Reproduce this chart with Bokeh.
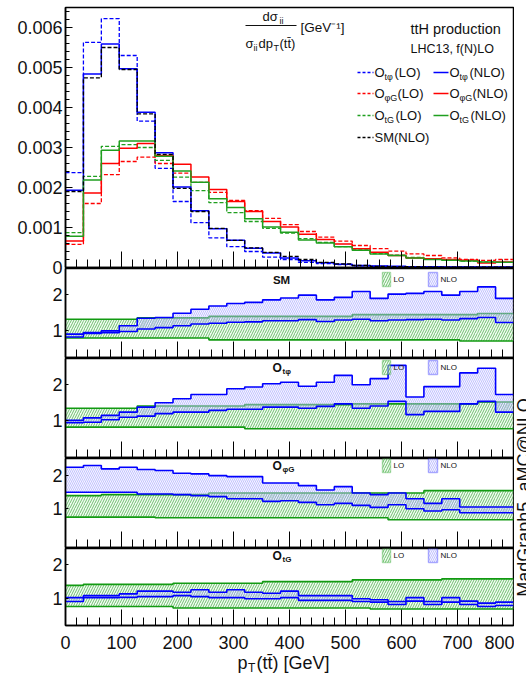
import math
from bokeh.plotting import figure
from bokeh.models import Range1d, FixedTicker, SingleIntervalTicker, Label, BoxAnnotation, LinearAxis
from bokeh.layouts import column, row
from bokeh.embed import file_html
from bokeh.resources import INLINE

# ---------------- data ----------------
bin_edges = [0, 32, 64, 96, 128, 160, 192, 224, 256, 288, 320, 352, 384, 416, 448,
             480, 512, 544, 576, 608, 640, 672, 704, 736, 768, 800]

# normalised distributions (1/sigma dsigma/dpT) [GeV^-1]
sm_nlo = [0.00190, 0.00474, 0.00550, 0.00495, 0.00384, 0.00283, 0.00198, 0.00140, 0.00098, 0.00068,
          0.00049, 0.00038, 0.00028, 0.00020, 0.00013, 0.00009, 0.00005, 0.00003, 0.00002, 0.00002,
          0.00001, 0.00001, 0.00001, 0.00001, 0.00001]
tphi_nlo = [0.00193, 0.00484, 0.00559, 0.00497, 0.00388, 0.00287, 0.00201, 0.00142, 0.00097, 0.00068,
            0.00048, 0.00036, 0.00024, 0.00017, 0.00012, 0.00008, 0.00005, 0.00004, 0.00003, 0.00002,
            0.00002, 0.00001, 0.00001, 0.00001, 0.00001]
tphi_lo = [0.00237, 0.00563, 0.00622, 0.00530, 0.00366, 0.00248, 0.00165, 0.00112, 0.00074, 0.00052,
           0.00040, 0.00026, 0.00020, 0.00013, 0.00010, 0.00007, 0.00004, 0.00003, 0.00002, 0.00002,
           0.00001, 0.00001, 0.00001, 0.00000, 0.00000]
phig_nlo = [0.00066, 0.00186, 0.00260, 0.00298, 0.00310, 0.00280, 0.00258, 0.00226, 0.00195, 0.00165,
            0.00140, 0.00115, 0.00101, 0.00083, 0.00070, 0.00059, 0.00047, 0.00038, 0.00030, 0.00024,
            0.00022, 0.00020, 0.00018, 0.00011, 0.00014]
phig_lo = [0.00058, 0.00160, 0.00232, 0.00265, 0.00276, 0.00260, 0.00236, 0.00213, 0.00188, 0.00168,
           0.00142, 0.00123, 0.00107, 0.00090, 0.00076, 0.00066, 0.00055, 0.00047, 0.00041, 0.00034,
           0.00030, 0.00024, 0.00020, 0.00018, 0.00020]
tg_nlo = [0.00078, 0.00219, 0.00293, 0.00316, 0.00316, 0.00278, 0.00241, 0.00213, 0.00172, 0.00150,
          0.00122, 0.00101, 0.00088, 0.00069, 0.00061, 0.00052, 0.00043, 0.00034, 0.00030, 0.00024,
          0.00020, 0.00018, 0.00016, 0.00014, 0.00013]
tg_lo = [0.00087, 0.00228, 0.00303, 0.00307, 0.00300, 0.00268, 0.00226, 0.00192, 0.00162, 0.00137,
         0.00115, 0.00098, 0.00086, 0.00072, 0.00063, 0.00052, 0.00044, 0.00035, 0.00031, 0.00025,
         0.00021, 0.00018, 0.00016, 0.00014, 0.00013]

# ratio bands (scale uncertainty / central), LO and NLO
sm_lo_up = [1.32, 1.32, 1.32, 1.32, 1.36, 1.36, 1.36, 1.36, 1.40, 1.40, 1.40, 1.40, 1.40, 1.40, 1.40,
            1.40, 1.45, 1.45, 1.45, 1.45, 1.45, 1.45, 1.45, 1.48, 1.48]
sm_lo_dn = [0.80, 0.80, 0.80, 0.80, 0.80, 0.80, 0.80, 0.80, 0.75, 0.75, 0.75, 0.75, 0.75, 0.75, 0.75,
            0.75, 0.75, 0.75, 0.75, 0.75, 0.75, 0.75, 0.72, 0.72, 0.72]
sm_nlo_up = [0.91, 0.95, 1.00, 1.14, 1.35, 1.37, 1.49, 1.60, 1.69, 1.76, 1.79, 1.86, 1.91, 1.99, 1.86,
             1.93, 2.09, 1.90, 2.02, 2.04, 2.09, 1.99, 2.09, 2.22, 1.90]
sm_nlo_dn = [0.83, 0.93, 0.95, 0.98, 1.05, 1.09, 1.14, 1.19, 1.21, 1.24, 1.25, 1.28, 1.28, 1.31, 1.26,
             1.30, 1.32, 1.28, 1.30, 1.31, 1.32, 1.30, 1.34, 1.37, 1.23]

tphi_lo_up = [1.34, 1.34, 1.34, 1.34, 1.40, 1.40, 1.40, 1.40, 1.40, 1.40, 1.44, 1.44, 1.44, 1.44, 1.44,
              1.44, 1.46, 1.46, 1.46, 1.46, 1.46, 1.46, 1.46, 1.51, 1.51]
tphi_lo_dn = [0.815, 0.815, 0.815, 0.815, 0.815, 0.815, 0.815, 0.815, 0.815, 0.815, 0.77, 0.77, 0.77,
              0.77, 0.77, 0.77, 0.77, 0.77, 0.77, 0.77, 0.77, 0.77, 0.77, 0.77, 0.77]
tphi_nlo_up = [1.00, 1.07, 1.14, 1.23, 1.37, 1.49, 1.60, 1.72, 1.72, 1.88, 1.93, 2.02, 2.06, 1.95, 2.06,
               2.25, 1.99, 2.16, 2.53, 1.65, 1.94, 1.94, 2.32, 2.45, 1.72]
tphi_nlo_dn = [0.935, 0.95, 1.02, 1.09, 1.12, 1.19, 1.23, 1.23, 1.28, 1.31, 1.31, 1.37, 1.37, 1.34, 1.39,
               1.46, 1.34, 1.40, 1.53, 1.16, 1.25, 1.25, 1.46, 1.53, 1.23]

phig_lo_up = [1.39, 1.39, 1.42, 1.42, 1.42, 1.42, 1.42, 1.42, 1.47, 1.47, 1.47, 1.47, 1.47, 1.47, 1.47,
              1.47, 1.47, 1.47, 1.47, 1.47, 1.54, 1.54, 1.54, 1.54, 1.54]
phig_lo_dn = [0.75, 0.75, 0.75, 0.75, 0.75, 0.73, 0.73, 0.73, 0.73, 0.73, 0.73, 0.73, 0.73, 0.73, 0.73,
              0.73, 0.73, 0.73, 0.67, 0.67, 0.67, 0.67, 0.67, 0.67, 0.67]
phig_nlo_up = [2.24, 2.29, 2.19, 2.24, 2.17, 2.14, 2.06, 2.04, 1.99, 1.96, 1.96, 1.77, 1.77, 1.69, 1.56,
               1.66, 1.47, 1.42, 1.47, 1.30, 1.16, 1.30, 1.05, 1.05, 1.05]
phig_nlo_dn = [1.49, 1.49, 1.49, 1.49, 1.44, 1.44, 1.42, 1.39, 1.36, 1.30, 1.30, 1.22, 1.24, 1.19, 1.12,
               1.16, 1.10, 1.04, 1.12, 1.00, 0.93, 0.97, 0.88, 0.88, 0.88]

tg_lo_up = [1.39, 1.42, 1.42, 1.42, 1.42, 1.42, 1.45, 1.45, 1.45, 1.45, 1.45, 1.50, 1.50, 1.50, 1.50,
            1.50, 1.55, 1.55, 1.55, 1.55, 1.55, 1.58, 1.58, 1.58, 1.58]
tg_lo_dn = [0.77, 0.77, 0.77, 0.77, 0.77, 0.77, 0.73, 0.73, 0.73, 0.73, 0.73, 0.73, 0.73, 0.73, 0.73,
            0.73, 0.73, 0.70, 0.70, 0.70, 0.70, 0.70, 0.70, 0.70, 0.70]
tg_nlo_up = [1.03, 1.09, 1.09, 1.14, 1.22, 1.22, 1.19, 1.26, 1.19, 1.26, 1.19, 1.16, 1.22, 1.09, 1.09,
             1.09, 1.00, 0.97, 0.92, 1.03, 0.92, 1.03, 0.93, 0.87, 0.90]
tg_nlo_dn = [0.92, 1.03, 1.03, 1.04, 1.06, 1.06, 1.09, 1.06, 1.03, 1.03, 1.00, 1.00, 1.03, 0.95, 0.95,
             0.95, 0.92, 0.90, 0.83, 0.93, 0.83, 0.90, 0.83, 0.77, 0.80]

main_yticks = [0, 0.001, 0.002, 0.003, 0.004, 0.005, 0.006]
main_ytick_labels = ["0", "0.001", "0.002", "0.003", "0.004", "0.005", "0.006"]
ratio_yticks = [1, 2]
x_major_ticks = [0, 100, 200, 300, 400, 500, 600, 700, 800]
x_minor_ticks = list(range(0, 801, 20))

# ---------------- styling / geometry ----------------
FONT = "Liberation Sans"
TXT = "#111111"
BLUE = "#0000ff"
RED = "#ff0000"
GREEN = "#1f9f1f"
BLACK = "#000000"
BAND_GREEN = "#129a12"
COL_W = 514
FL, FR = 65, 513

PANELS = {
    "main": dict(top=7, bottom=267, y0=0.0, y1=0.0065),
    "r1": dict(top=268, bottom=357, y0=0.26, y1=2.73),
    "r2": dict(top=358, bottom=457, y0=-0.03, y1=2.72),
    "r3": dict(top=458, bottom=547, y0=-0.158, y1=2.50),
    "r4": dict(top=548, bottom=625, y0=0.216, y1=2.468),
}


def gx(px):
    return (px - FL) * 800.0 / (FR - FL)


def gy(key, py):
    g = PANELS[key]
    return g["y1"] - (py - g["top"]) * (g["y1"] - g["y0"]) / (g["bottom"] - g["top"])


def txt_px(p, x, y, text, size, bold=False, align="left", color=TXT):
    p.add_layout(Label(x=x, y=y, text=text, text_font=FONT,
                       text_font_size=f"{size}px", text_font_style="bold" if bold else "normal",
                       text_align=align, text_baseline="middle", text_color=color))


def txt(p, key, px, py, text, size, bold=False, align="left", color=TXT):
    txt_px(p, gx(px), gy(key, py), text, size, bold, align, color)


def make_fig(key, height, btop, bbottom, show_xlabels=False, margin=None):
    g = PANELS[key]
    kw = {}
    if margin is not None:
        kw["margin"] = margin
    p = figure(width=COL_W, height=height, x_range=Range1d(0, 800),
               y_range=Range1d(g["y0"], g["y1"]), output_backend="svg", toolbar_location=None,
               min_border_left=FL, min_border_right=COL_W - FR,
               min_border_top=btop, min_border_bottom=bbottom, **kw)
    p.xgrid.visible = False
    p.ygrid.visible = False
    p.outline_line_color = "black"
    p.outline_line_width = 1.5
    p.background_fill_color = "white"
    p.border_fill_alpha = 0.0
    xa = p.xaxis[0]
    xa.major_tick_out = 0
    xa.minor_tick_out = 0
    xa.major_tick_line_color = "black"
    xa.minor_tick_line_color = "black"
    xa.axis_line_color = "black"
    xa.axis_line_width = 1.5
    if show_xlabels:
        xa.ticker = SingleIntervalTicker(interval=100, num_minor_ticks=5)
        xa.major_tick_in = 16
        xa.minor_tick_in = 8
        xa.major_label_text_font = FONT
        xa.major_label_text_font_size = "18px"
        xa.major_label_text_color = TXT
        xa.major_label_standoff = 10
    else:
        # tick marks only (no labels): short ticks every 20 GeV, long ones every 100 GeV
        xa.ticker = FixedTicker(ticks=[], minor_ticks=x_minor_ticks)
        xa.minor_tick_in = 8
        xa.major_label_standoff = 0
        xb = LinearAxis(ticker=FixedTicker(ticks=[], minor_ticks=x_major_ticks),
                        minor_tick_in=16, minor_tick_out=0, major_tick_in=0, major_tick_out=0,
                        major_label_standoff=0, axis_line_color=None,
                        minor_tick_line_color="black")
        p.add_layout(xb, "below")
    ya = p.yaxis[0]
    ya.major_tick_out = 0
    ya.minor_tick_out = 0
    ya.major_label_text_font = FONT
    ya.major_label_text_font_size = "18px"
    ya.major_label_text_color = TXT
    ya.major_label_standoff = 3
    ya.axis_line_color = "black"
    ya.axis_line_width = 1.5
    ya.major_tick_line_color = "black"
    return p


def hist(p, vals, color, dash="solid", width=1.5):
    p.step(x=bin_edges, y=vals + vals[-1:], mode="after", line_color=color,
           line_width=width, line_dash=dash)


LO_STYLE = dict(fill_color="#e9f6e9", fill_alpha=0.5, hatch_pattern="right_diagonal_line",
                hatch_color="#2aa52a", hatch_scale=5, hatch_weight=0.9, hatch_alpha=0.75)
NLO_STYLE = dict(fill_color="#e6e6ff", fill_alpha=0.35, hatch_pattern="left_diagonal_line",
                 hatch_color="#7a7aff", hatch_scale=4, hatch_weight=0.6, hatch_alpha=0.7)


def band(p, lo, hi, style, line_color):
    p.quad(left=bin_edges[:-1], right=bin_edges[1:], bottom=lo, top=hi, line_color=None, **style)
    p.step(x=bin_edges, y=hi + hi[-1:], mode="after", line_color=line_color, line_width=1.6)
    p.step(x=bin_edges, y=lo + lo[-1:], mode="after", line_color=line_color, line_width=1.6)


# ---------------- main panel ----------------
main = make_fig("main", 276, 7, 9)
ya = main.yaxis[0]
ya.ticker = FixedTicker(ticks=main_yticks, minor_ticks=[k * 0.0002 for k in range(33)])
ya.major_label_overrides = {t: s for t, s in zip(main_yticks, main_ytick_labels)}
ya.major_tick_in = 7
ya.minor_tick_in = 4
ya.minor_tick_line_color = "black"

hist(main, tphi_lo, BLUE, "4 2", 1.3)
hist(main, phig_lo, RED, "4 2", 1.3)
hist(main, tg_lo, GREEN, "4 2", 1.3)
hist(main, tphi_nlo, BLUE)
hist(main, phig_nlo, RED)
hist(main, tg_nlo, GREEN)
hist(main, sm_nlo, BLACK, "4 2", 1.3)

# y-axis title (fraction)
txt(main, "main", 262, 16, "dσ", 13)
txt(main, "main", 279, 20, "ii", 9)
main.segment(x0=[gx(245)], y0=[gy("main", 25)], x1=[gx(296)], y1=[gy("main", 25)],
             line_color=TXT, line_width=1)
txt(main, "main", 245, 43, "σ", 13)
txt(main, "main", 253, 47, "ii", 9)
txt(main, "main", 258, 43, "dp", 13)
txt(main, "main", 273, 47, "T", 9)
txt(main, "main", 279, 43, "(tt\u0304)", 13)
txt(main, "main", 300, 27, "[GeV\u207b\u00b9]", 13.5)
txt(main, "main", 410, 28, "ttH production", 14.5)
txt(main, "main", 410, 48, "LHC13, f(N)LO", 12.5)

# legend
leg_rows = [(72, "tφ", BLUE, 9), (93, "φG", RED, 12), (115, "tG", GREEN, 10)]
for ly, sub, col, sw in leg_rows:
    main.segment(x0=[gx(357)], y0=[gy("main", ly)], x1=[gx(373)], y1=[gy("main", ly)],
                 line_color=col, line_width=1.3, line_dash="3 2")
    txt(main, "main", 374, ly, "O", 13)
    txt(main, "main", 384, ly + 4, sub, 9)
    txt(main, "main", 385 + sw, ly, "(LO)", 13)
    main.segment(x0=[gx(433)], y0=[gy("main", ly)], x1=[gx(448)], y1=[gy("main", ly)],
                 line_color=col, line_width=1.6)
    txt(main, "main", 449, ly, "O", 13)
    txt(main, "main", 459, ly + 4, sub, 9)
    txt(main, "main", 460 + sw, ly, "(NLO)", 13)
main.segment(x0=[gx(357)], y0=[gy("main", 137)], x1=[gx(373)], y1=[gy("main", 137)],
             line_color=BLACK, line_width=1.3, line_dash="3 2")
txt(main, "main", 374, 137, "SM(NLO)", 13)

# ---------------- ratio panels ----------------
ratio_specs = [
    ("r1", 90, 1, sm_lo_dn, sm_lo_up, sm_nlo_dn, sm_nlo_up, None, 279, (-8, 0, 0, 0)),
    ("r2", 100, 1, tphi_lo_dn, tphi_lo_up, tphi_nlo_dn, tphi_nlo_up, "tφ", 367, None),
    ("r3", 90, 1, phig_lo_dn, phig_lo_up, phig_nlo_dn, phig_nlo_up, "φG", 465, None),
    ("r4", 125, 48, tg_lo_dn, tg_lo_up, tg_nlo_dn, tg_nlo_up, "tG", 555, None),
]
ratio_figs = []
for key, h, bb, lo_dn, lo_up, nlo_dn, nlo_up, sub, cy, mg in ratio_specs:
    p = make_fig(key, h, 0, bb, show_xlabels=(key == "r4"), margin=mg)
    ya = p.yaxis[0]
    ya.ticker = FixedTicker(ticks=ratio_yticks)
    ya.major_tick_in = 3
    ya.minor_tick_line_color = None
    band(p, lo_dn, lo_up, LO_STYLE, BAND_GREEN)
    band(p, nlo_dn, nlo_up, NLO_STYLE, BLUE)
    if sub is None:
        txt(p, key, 281, cy, "SM", 11.5, bold=True, align="center")
    else:
        txt(p, key, 272, cy, "O", 12, bold=True)
        txt(p, key, 282, cy + 4, sub, 8, bold=True)
    p.add_layout(BoxAnnotation(left=gx(382), right=gx(390), top=gy(key, cy - 7), bottom=gy(key, cy + 7),
                               line_color=BAND_GREEN, line_width=1.5, fill_color="#e9f6e9", fill_alpha=0.5,
                               hatch_pattern="right_diagonal_line", hatch_color="#2aa52a",
                               hatch_scale=5, hatch_weight=0.9, hatch_alpha=0.75))
    txt(p, key, 393, cy, "LO", 8)
    p.add_layout(BoxAnnotation(left=gx(428), right=gx(437), top=gy(key, cy - 7), bottom=gy(key, cy + 7),
                               line_color=BLUE, line_width=1.5, fill_color="#e6e6ff", fill_alpha=0.35,
                               hatch_pattern="left_diagonal_line", hatch_color="#7a7aff",
                               hatch_scale=4, hatch_weight=0.6, hatch_alpha=0.7))
    txt(p, key, 440, cy, "NLO", 8)
    ratio_figs.append(p)

r1, r2, r3, r4 = ratio_figs

# ---------------- x-axis title (overlay strip under the last panel) ----------------
xt = figure(width=COL_W, height=26, x_range=Range1d(0, 800), y_range=Range1d(673, 647),
            output_backend="svg", toolbar_location=None, min_border_left=FL,
            min_border_right=COL_W - FR, min_border_top=0, min_border_bottom=0,
            x_axis_location=None, y_axis_location=None, margin=(-26, 0, 0, 0))
xt.grid.visible = False
xt.outline_line_color = None
xt.background_fill_alpha = 0.0
xt.border_fill_alpha = 0.0
txt_px(xt, gx(237), 662, "p", 18)
txt_px(xt, gx(247.5), 667, "T", 12)
txt_px(xt, gx(256), 662, "(tt\u0304) [GeV]", 18)

# ---------------- right-hand rotated label ----------------
tf = figure(width=16, height=673, x_range=Range1d(510, 526), y_range=Range1d(673, 0),
            output_backend="svg", toolbar_location=None, min_border=0,
            x_axis_location=None, y_axis_location=None, margin=(0, 0, 0, -4))
tf.grid.visible = False
tf.outline_line_color = None
tf.background_fill_alpha = 0.0
tf.border_fill_alpha = 0.0
tf.add_layout(Label(x=523, y=497, text="MadGraph5_aMC@NLO", angle=math.pi / 2,
                    text_font=FONT, text_font_size="18px", text_color=TXT,
                    text_align="center", text_baseline="alphabetic"))

layout = row(column(main, r1, r2, r3, r4, xt), tf)
open("out.html", "w").write(file_html(layout, INLINE))
